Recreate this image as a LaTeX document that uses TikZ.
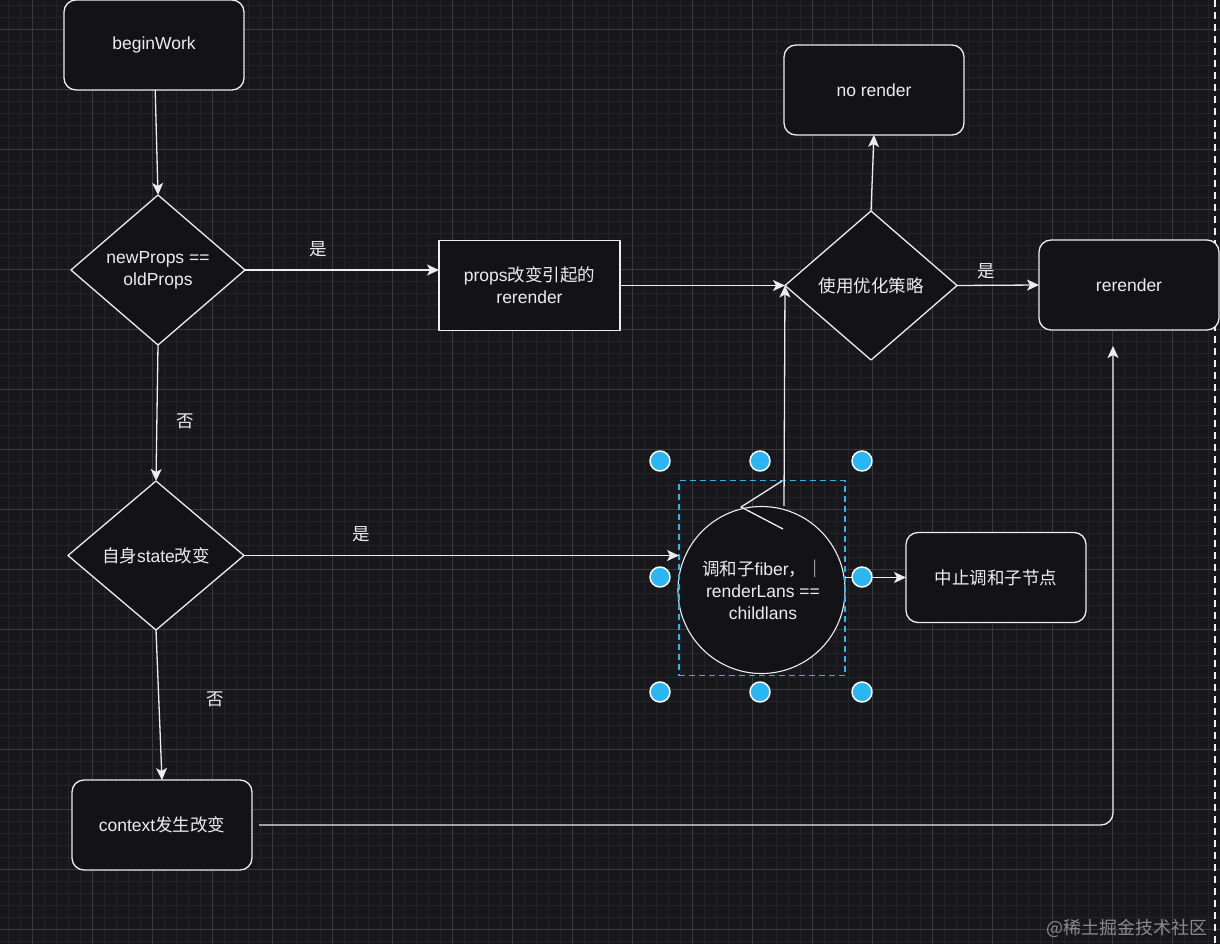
\documentclass[tikz,border=0pt]{standalone}
\usepackage{fontspec}
\setmainfont{Liberation Sans}
\newfontfamily\cjk{Noto Sans CJK SC}
\usetikzlibrary{shapes.geometric,arrows.meta}
\definecolor{bgcol}{HTML}{18171C}
\definecolor{boxcol}{HTML}{131216}
\definecolor{fgcol}{HTML}{EDEDED}
\definecolor{minorcol}{HTML}{242328}
\definecolor{majorcol}{HTML}{3A393E}
\definecolor{selcol}{HTML}{29B6F2}
\definecolor{markcol}{HTML}{8A8A8A}
\begin{document}
\begin{tikzpicture}[x=1pt, y=-1pt, line cap=butt, line join=round,
    >={Stealth[length=12pt,width=11pt,inset=3pt]},
    every node/.style={text=fgcol, font=\fontsize{17.5}{22}\selectfont, align=center, outer sep=0pt},
    flowbox/.style={draw=fgcol, fill=boxcol, line width=1.3pt, rounded corners=12pt, minimum width=180pt, minimum height=90pt},
    plainbox/.style={draw=fgcol, fill=boxcol, line width=1.3pt, minimum width=181pt, minimum height=90pt},
    choice/.style={shape=diamond, draw=fgcol, fill=boxcol, line width=1.3pt, inner sep=0pt, minimum width=174pt, minimum height=150pt},
    conn/.style={draw=fgcol, line width=1.3pt},
    handle/.style={fill=selcol, draw=white, line width=1.5pt}]
  \useasboundingbox (0,0) rectangle (1220,944);
  % canvas and grid
  \fill[bgcol] (0,0) rectangle (1220,944);
  \foreach \gx in {8,20,...,1220} \draw[minorcol, line width=0.8pt] (\gx,0) -- (\gx,944);
  \foreach \gy in {5,17,...,944} \draw[minorcol, line width=0.8pt] (0,\gy) -- (1220,\gy);
  \foreach \gx in {32,92,...,1220} \draw[majorcol, line width=0.9pt] (\gx,0) -- (\gx,944);
  \foreach \gy in {29,89,...,944} \draw[majorcol, line width=0.9pt] (0,\gy) -- (1220,\gy);
  \draw[fgcol!85, line width=1.3pt, dash pattern=on 7pt off 5pt] (1215,0) -- (1215,944);

  % boxes
  \node[flowbox] (bw) at (154,45) {beginWork};
  \node[choice] (d1) at (158,270) {newProps ==\\oldProps};
  \node[plainbox] (props) at (529.5,285.5) {props{\cjk 改变引起的}\\rerender};
  \node[choice, minimum width=172pt, minimum height=149pt] (d2) at (871,285.5) {{\cjk 使用优化策略}};
  \node[flowbox] (nr) at (874,90) {no render};
  \node[flowbox] (rr) at (1129,285) {rerender};
  \node[choice, minimum width=176pt, minimum height=149pt] (d3) at (156,555.5) {{\cjk 自身}state{\cjk 改变}};
  \node[circle, draw=fgcol, fill=boxcol, line width=1.1pt, minimum size=167pt, inner sep=0pt] (fib) at (761.5,590) {};
  \node at (763,590) {{\cjk 调和子}fiber{\cjk ，｜}\\renderLans ==\\childlans};
  \node[flowbox] (ab) at (996,577.5) {{\cjk 中止调和子节点}};
  \node[flowbox] (ctx) at (162,825) {context{\cjk 发生改变}};

  % selection frame
  \node[draw=selcol, line width=1.5pt, dash pattern=on 6pt off 4pt, minimum width=166pt, minimum height=195pt] (sel) at (762,578) {};
  \coordinate (tail) at (784,506);
  \coordinate (rrin) at (1113,346);

  % connectors
  \draw[conn,->] (bw) -- (d1.north);
  \draw[conn,->] (d1.east) -- (d1.east -| props.west) node[pos=0.38, above=10pt] {{\cjk 是}};
  \draw[conn,->] (props.east) -- (d2.west);
  \draw[conn,->] (d2.north) -- (nr.south);
  \draw[conn,->] (d2.east) -- (rr.west) node[pos=0.36, above=3pt] {{\cjk 是}};
  \draw[conn,->] (d1.south) -- (d3.north) node[pos=0.56, right=16pt] {{\cjk 否}};
  \draw[conn,->] (d3.east) -- (d3.east -| sel.west) node[pos=0.27, above=10pt] {{\cjk 是}};
  \draw[conn,->] (tail) -- (d2.west);
  \draw[conn] (782,481) -- (741,507) -- (783,529);
  \draw[conn,->] (ab.west -| sel.east) -- (ab.west);
  \draw[conn,->] (d3.south) -- (ctx.north) node[pos=0.46, right=44pt] {{\cjk 否}};
  \draw[conn,->,rounded corners=12pt] ([xshift=7pt]ctx.east) -| (rrin);

  % handles
  \foreach \hx/\hy in {660/461, 760/461, 862/461, 660/577, 862/577, 660/692, 760/692, 862/692}
    \filldraw[handle] (\hx,\hy) circle[radius=10pt];

  \node[text=markcol, anchor=east, font=\cjk\fontsize{18}{20}\selectfont] (wm) at (1211,928) {@稀土掘金技术社区};
\end{tikzpicture}
\end{document}
